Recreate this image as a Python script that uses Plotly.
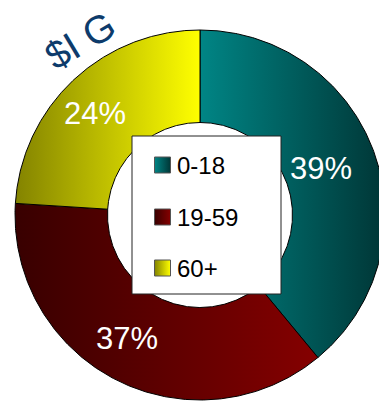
import numpy as np
import plotly.graph_objects as go

# Age-group shares (percent)
groups = ["0-18", "19-59", "60+"]
shares = [39, 37, 24]
# Horizontal gradient of each slice: (left colour, right colour)
gradients = [("#008585", "#003636"), ("#380000", "#850000"), ("#838300", "#ffff00")]

W, H = 379, 401
CX, CY, R = 200, 215, 185          # donut centre and outer radius, in pixels
HOLE = 0.5

def px(x):
    return (x - CX) / R

def py(y):
    return (CY - y) / R

fig = go.Figure()

# Donut slices, clockwise from 12 o'clock
total = sum(shares)
start = 0.0
mids = []
for name, val, (c0, c1) in zip(groups, shares, gradients):
    end = start + val / total
    t = np.linspace(start, end, 240) * 2 * np.pi
    ox, oy = np.sin(t), np.cos(t)
    xs = np.concatenate([ox, HOLE * ox[::-1], ox[:1]])
    ys = np.concatenate([oy, HOLE * oy[::-1], oy[:1]])
    fig.add_trace(go.Scatter(
        x=xs, y=ys, mode="lines", fill="toself",
        fillgradient=dict(type="horizontal", colorscale=[[0, c0], [1, c1]]),
        line=dict(color="#000000", width=1),
        hoverinfo="skip", showlegend=False, name=name,
    ))
    mids.append((start + end) / 2 * 2 * np.pi)
    start = end

# Percentage labels inside the ring
for val, a in zip(shares, mids):
    r = (1 + HOLE) / 2
    fig.add_annotation(
        x=r * np.sin(a) - 10 / R, y=r * np.cos(a),
        text=f"{val}%", showarrow=False,
        font=dict(family="Arial, Liberation Sans", size=31, color="#ffffff"),
        xanchor="center", yanchor="middle",
    )

# Legend box in the hole (white panel on top of the ring)
bx0, bx1, by0, by1 = px(132), px(281), py(136), py(294)
fig.add_trace(go.Scatter(
    x=[bx0, bx1, bx1, bx0, bx0], y=[by0, by0, by1, by1, by0],
    mode="lines", fill="toself", fillcolor="#ffffff",
    line=dict(color="#222222", width=1),
    hoverinfo="skip", showlegend=False,
))

legend_y = [165, 217, 268]
for name, (c0, c1), ly in zip(groups, gradients, legend_y):
    fig.add_trace(go.Scatter(
        x=[px(162.5)], y=[py(ly)], mode="markers",
        marker=dict(symbol="square", size=16, color=c0,
                    gradient=dict(type="horizontal", color=c1),
                    line=dict(color="#555555", width=1)),
        hoverinfo="skip", showlegend=False,
    ))
    fig.add_annotation(
        x=px(175), y=py(ly), text=name, showarrow=False,
        font=dict(family="Arial, Liberation Sans", size=24, color="#000000"),
        xanchor="left", yanchor="middle",
    )

# Tilted heading
fig.add_annotation(
    x=px(80), y=py(40), text="$I G", showarrow=False, textangle=-31,
    font=dict(family="Arial, Liberation Sans", size=39, color="#0d3b6b"),
    xanchor="center", yanchor="middle",
)

fig.update_layout(
    width=W, height=H,
    margin=dict(l=0, r=0, t=0, b=0),
    paper_bgcolor="#ffffff", plot_bgcolor="#ffffff",
    xaxis=dict(range=[px(0), px(W)], visible=False, fixedrange=True),
    yaxis=dict(range=[py(H), py(0)], visible=False, fixedrange=True),
    showlegend=False,
)

fig.write_html("out.html")
